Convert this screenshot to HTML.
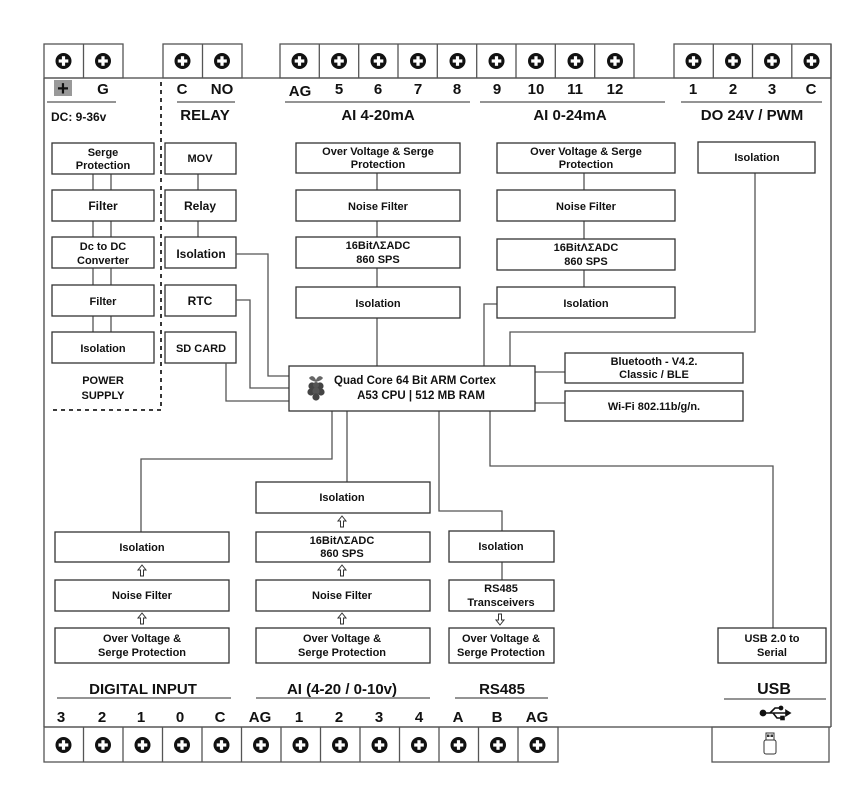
<!DOCTYPE html>
<html><head><meta charset="utf-8"><style>
html,body{margin:0;padding:0;background:#fff;}
svg{display:block;}
text{font-family:"Liberation Sans",Arial,sans-serif;font-weight:bold;fill:#111;}
.b{fill:#fff;stroke:#333;stroke-width:1.3;}
.l{fill:none;stroke:#555;stroke-width:1.3;}
.t{font-size:11px;text-anchor:middle;}
.p{font-size:15px;text-anchor:middle;}
.h{font-size:15px;text-anchor:middle;}
</style></head><body>
<svg width="868" height="802" viewBox="0 0 868 802" xmlns="http://www.w3.org/2000/svg">
<defs>
<g id="s"><circle r="8" fill="#111"/><rect x="-4.8" y="-1.6" width="9.6" height="3.2" fill="#fff"/><rect x="-1.6" y="-4.8" width="3.2" height="9.6" fill="#fff"/></g>
<g id="ua"><path d="M0,-6 L-4,-1 L-1.5,-1 L-1.5,5 L1.5,5 L1.5,-1 L4,-1 Z" fill="#fff" stroke="#333" stroke-width="1"/></g>
</defs>

<path class="l" d="M44,78 L831,78 M44,78 L44,727 M831,44 L831,727 M44,727 L831,727" style="stroke:#444"/>

<g class="l" style="stroke:#555">
<rect x="44" y="44" width="79" height="34"/><line x1="83.5" y1="44" x2="83.5" y2="78"/>
<rect x="163" y="44" width="79" height="34"/><line x1="202.5" y1="44" x2="202.5" y2="78"/>
<rect x="280" y="44" width="354" height="34"/>
<rect x="674" y="44" width="157" height="34"/>
</g>
<g class="l" style="stroke:#555">
<line x1="319.3" y1="44" x2="319.3" y2="78"/><line x1="358.7" y1="44" x2="358.7" y2="78"/><line x1="398" y1="44" x2="398" y2="78"/><line x1="437.3" y1="44" x2="437.3" y2="78"/><line x1="476.7" y1="44" x2="476.7" y2="78"/><line x1="516" y1="44" x2="516" y2="78"/><line x1="555.3" y1="44" x2="555.3" y2="78"/><line x1="594.7" y1="44" x2="594.7" y2="78"/>
<line x1="713.3" y1="44" x2="713.3" y2="78"/><line x1="752.5" y1="44" x2="752.5" y2="78"/><line x1="791.8" y1="44" x2="791.8" y2="78"/>
</g>
<use href="#s" x="63.5" y="61"/><use href="#s" x="103" y="61"/>
<use href="#s" x="182.5" y="61"/><use href="#s" x="222" y="61"/>
<use href="#s" x="299.5" y="61"/><use href="#s" x="339" y="61"/><use href="#s" x="378.5" y="61"/><use href="#s" x="418" y="61"/><use href="#s" x="457.5" y="61"/><use href="#s" x="496.5" y="61"/><use href="#s" x="536" y="61"/><use href="#s" x="575.5" y="61"/><use href="#s" x="615" y="61"/>
<use href="#s" x="693.5" y="61"/><use href="#s" x="733" y="61"/><use href="#s" x="772" y="61"/><use href="#s" x="811.5" y="61"/>

<rect x="54" y="80" width="18" height="16" fill="#999"/>
<text class="p" x="63" y="95" style="font-size:20px">+</text>
<text class="p" x="103" y="94">G</text>
<text class="p" x="182" y="94">C</text><text class="p" x="222" y="94">NO</text>
<text class="p" x="300" y="96">AG</text><text class="p" x="339" y="94">5</text><text class="p" x="378" y="94">6</text><text class="p" x="418" y="94">7</text><text class="p" x="457" y="94">8</text>
<text class="p" x="497" y="94">9</text><text class="p" x="536" y="94">10</text><text class="p" x="575" y="94">11</text><text class="p" x="615" y="94">12</text>
<text class="p" x="693" y="94">1</text><text class="p" x="733" y="94">2</text><text class="p" x="772" y="94">3</text><text class="p" x="811" y="94">C</text>
<g class="l"><line x1="47" y1="102" x2="116" y2="102"/><line x1="177" y1="102" x2="235" y2="102"/><line x1="285" y1="102" x2="470" y2="102"/><line x1="480" y1="102" x2="665" y2="102"/><line x1="681" y1="102" x2="822" y2="102"/></g>
<text x="51" y="121" style="font-size:12px">DC: 9-36v</text>
<text class="h" x="205" y="120">RELAY</text>
<text class="h" x="378" y="120">AI 4-20mA</text>
<text class="h" x="570" y="120">AI 0-24mA</text>
<text class="h" x="752" y="120">DO 24V / PWM</text>

<path d="M161,82 L161,410 L50,410" fill="none" stroke="#222" stroke-width="1.8" stroke-dasharray="4,4"/>

<g class="l"><line x1="93" y1="174" x2="93" y2="332"/><line x1="111" y1="174" x2="111" y2="332"/></g>
<rect class="b" x="52" y="143" width="102" height="31"/><text class="t" x="103" y="156">Serge</text><text class="t" x="103" y="169">Protection</text>
<rect class="b" x="52" y="190" width="102" height="31"/><text class="t" x="103" y="210" style="font-size:12px">Filter</text>
<rect class="b" x="52" y="237" width="102" height="31"/><text class="t" x="103" y="250">Dc to DC</text><text class="t" x="103" y="264">Converter</text>
<rect class="b" x="52" y="285" width="102" height="31"/><text class="t" x="103" y="305">Filter</text>
<rect class="b" x="52" y="332" width="102" height="31"/><text class="t" x="103" y="352">Isolation</text>
<text class="t" x="103" y="384">POWER</text><text class="t" x="103" y="399">SUPPLY</text>

<g class="l"><line x1="198" y1="174" x2="198" y2="237"/></g>
<rect class="b" x="165" y="143" width="71" height="31"/><text class="t" x="200" y="162">MOV</text>
<rect class="b" x="165" y="190" width="71" height="31"/><text class="t" x="200" y="210" style="font-size:12px">Relay</text>
<rect class="b" x="165" y="237" width="71" height="31"/><text class="t" x="201" y="258" style="font-size:12px">Isolation</text>
<rect class="b" x="165" y="285" width="71" height="31"/><text class="t" x="200" y="305" style="font-size:12px">RTC</text>
<rect class="b" x="165" y="332" width="71" height="31"/><text class="t" x="201" y="352">SD CARD</text>

<g class="l">
<polyline points="236,254 268,254 268,376 289,376"/>
<polyline points="236,300 250,300 250,388 289,388"/>
<polyline points="226,363 226,401 289,401"/>
</g>

<g class="l"><line x1="377" y1="173" x2="377" y2="366"/></g>
<rect class="b" x="296" y="143" width="164" height="30"/><text class="t" x="378" y="155">Over Voltage &amp; Serge</text><text class="t" x="378" y="168">Protection</text>
<rect class="b" x="296" y="190" width="164" height="31"/><text class="t" x="378" y="210">Noise Filter</text>
<rect class="b" x="296" y="237" width="164" height="31"/><text class="t" x="378" y="249">16BitΛΣADC</text><text class="t" x="378" y="263">860 SPS</text>
<rect class="b" x="296" y="287" width="164" height="31"/><text class="t" x="378" y="307">Isolation</text>

<g class="l"><line x1="584" y1="173" x2="584" y2="287"/>
<polyline points="497,304 484,304 484,366"/>
<polyline points="755,173 755,332 510,332 510,366"/></g>
<rect class="b" x="497" y="143" width="178" height="30"/><text class="t" x="586" y="155">Over Voltage &amp; Serge</text><text class="t" x="586" y="168">Protection</text>
<rect class="b" x="497" y="190" width="178" height="31"/><text class="t" x="586" y="210">Noise Filter</text>
<rect class="b" x="497" y="239" width="178" height="31"/><text class="t" x="586" y="251">16BitΛΣADC</text><text class="t" x="586" y="265">860 SPS</text>
<rect class="b" x="497" y="287" width="178" height="31"/><text class="t" x="586" y="307">Isolation</text>
<rect class="b" x="698" y="142" width="117" height="31"/><text class="t" x="757" y="161">Isolation</text>

<g class="l">
<line x1="535" y1="372" x2="565" y2="372"/><line x1="535" y1="403" x2="565" y2="403"/>
<polyline points="332,411 332,459 141,459 141,532"/>
<line x1="347" y1="411" x2="347" y2="482"/>
<polyline points="439,411 439,511 502,511 502,531"/>
<polyline points="490,411 490,466 773,466 773,628"/>
</g>
<rect class="b" x="289" y="366" width="246" height="45"/>
<g transform="translate(316,388)">
<path d="M-7,-10 C-4,-14 -1,-11 0,-8 C1,-11 4,-14 7,-10 C5,-7 2,-7 0,-6 C-2,-7 -5,-7 -7,-10Z" fill="#666"/>
<circle cx="-4" cy="-2" r="3.6" fill="#444"/><circle cx="4" cy="-2" r="3.6" fill="#444"/><circle cx="0" cy="-3" r="3" fill="#555"/>
<circle cx="-5" cy="4" r="3.6" fill="#444"/><circle cx="5" cy="4" r="3.6" fill="#444"/><circle cx="0" cy="3" r="3.6" fill="#555"/><circle cx="0" cy="9" r="3.6" fill="#444"/>
</g>
<text class="t" x="415" y="384" style="font-size:11.5px">Quad Core 64 Bit ARM Cortex</text>
<text class="t" x="421" y="399" style="font-size:11.5px">A53 CPU | 512 MB RAM</text>

<rect class="b" x="565" y="353" width="178" height="30"/><text class="t" x="654" y="365">Bluetooth - V4.2.</text><text class="t" x="654" y="378">Classic / BLE</text>
<rect class="b" x="565" y="391" width="178" height="30"/><text class="t" x="654" y="410">Wi-Fi 802.11b/g/n.</text>

<rect class="b" x="55" y="532" width="174" height="30"/><text class="t" x="142" y="551">Isolation</text>
<rect class="b" x="55" y="580" width="174" height="31"/><text class="t" x="142" y="599">Noise Filter</text>
<rect class="b" x="55" y="628" width="174" height="35"/><text class="t" x="142" y="642">Over Voltage &amp;</text><text class="t" x="142" y="656">Serge Protection</text>
<use href="#ua" x="142" y="571"/><use href="#ua" x="142" y="619"/>

<rect class="b" x="256" y="482" width="174" height="31"/><text class="t" x="342" y="501">Isolation</text>
<rect class="b" x="256" y="532" width="174" height="30"/><text class="t" x="342" y="544">16BitΛΣADC</text><text class="t" x="342" y="557">860 SPS</text>
<rect class="b" x="256" y="580" width="174" height="31"/><text class="t" x="342" y="599">Noise Filter</text>
<rect class="b" x="256" y="628" width="174" height="35"/><text class="t" x="342" y="642">Over Voltage &amp;</text><text class="t" x="342" y="656">Serge Protection</text>
<use href="#ua" x="342" y="522"/><use href="#ua" x="342" y="571"/><use href="#ua" x="342" y="619"/>

<g class="l"><line x1="502" y1="562" x2="502" y2="580"/></g>
<rect class="b" x="449" y="531" width="105" height="31"/><text class="t" x="501" y="550">Isolation</text>
<rect class="b" x="449" y="580" width="105" height="31"/><text class="t" x="501" y="592">RS485</text><text class="t" x="501" y="606">Transceivers</text>
<rect class="b" x="449" y="628" width="105" height="35"/><text class="t" x="501" y="642">Over Voltage &amp;</text><text class="t" x="501" y="656">Serge Protection</text>
<use href="#ua" x="500" y="619" transform="rotate(180 500 619)"/>

<rect class="b" x="718" y="628" width="108" height="35"/><text class="t" x="772" y="642">USB 2.0 to</text><text class="t" x="772" y="656">Serial</text>

<text class="h" x="143" y="694">DIGITAL INPUT</text>
<text class="h" x="342" y="694">AI (4-20 / 0-10v)</text>
<text class="h" x="502" y="694">RS485</text>
<text class="h" x="774" y="694" style="font-size:16px">USB</text>
<g class="l"><line x1="57" y1="698" x2="231" y2="698"/><line x1="256" y1="698" x2="430" y2="698"/><line x1="455" y1="698" x2="548" y2="698"/><line x1="724" y1="699" x2="826" y2="699"/></g>
<text class="p" x="61" y="722">3</text><text class="p" x="102" y="722">2</text><text class="p" x="141" y="722">1</text><text class="p" x="180" y="722">0</text><text class="p" x="220" y="722">C</text>
<text class="p" x="260" y="722">AG</text><text class="p" x="299" y="722">1</text><text class="p" x="339" y="722">2</text><text class="p" x="379" y="722">3</text><text class="p" x="419" y="722">4</text>
<text class="p" x="458" y="722">A</text><text class="p" x="497" y="722">B</text><text class="p" x="537" y="722">AG</text>
<g transform="translate(774,713)" stroke="#111" stroke-width="1.6" fill="none">
<line x1="-10" y1="0" x2="12" y2="0"/>
<polyline points="-4,0 1,-5 6,-5"/><polyline points="-1,0 3,5 7,5"/>
<circle cx="-11" cy="0" r="2.6" fill="#111"/><path d="M12,-2.5 L16,0 L12,2.5Z" fill="#111"/>
<circle cx="7" cy="-5" r="1.6" fill="#111"/><rect x="7" y="3.5" width="3" height="3" fill="#111"/>
</g>

<rect class="l" x="44" y="727" width="514" height="35"/>
<g class="l">
<line x1="83.5" y1="727" x2="83.5" y2="762"/><line x1="123" y1="727" x2="123" y2="762"/><line x1="162.5" y1="727" x2="162.5" y2="762"/><line x1="202" y1="727" x2="202" y2="762"/><line x1="241.5" y1="727" x2="241.5" y2="762"/><line x1="281" y1="727" x2="281" y2="762"/><line x1="320.5" y1="727" x2="320.5" y2="762"/><line x1="360" y1="727" x2="360" y2="762"/><line x1="399.5" y1="727" x2="399.5" y2="762"/><line x1="439" y1="727" x2="439" y2="762"/><line x1="478.5" y1="727" x2="478.5" y2="762"/><line x1="518" y1="727" x2="518" y2="762"/>
</g>
<use href="#s" x="63.5" y="745"/><use href="#s" x="103" y="745"/><use href="#s" x="142.5" y="745"/><use href="#s" x="182" y="745"/><use href="#s" x="221.5" y="745"/><use href="#s" x="261" y="745"/><use href="#s" x="300.5" y="745"/><use href="#s" x="340" y="745"/><use href="#s" x="379.5" y="745"/><use href="#s" x="419" y="745"/><use href="#s" x="458.5" y="745"/><use href="#s" x="498" y="745"/><use href="#s" x="537.5" y="745"/>
<rect class="l" x="712" y="727" width="117" height="35"/>
<g transform="translate(770,744)" stroke="#333" stroke-width="1" fill="#fff">
<rect x="-4" y="-11" width="8" height="7"/><rect x="-6" y="-4" width="12" height="14" rx="2"/>
<rect x="-2.5" y="-9" width="1.5" height="1.5" fill="#333"/><rect x="1" y="-9" width="1.5" height="1.5" fill="#333"/>
</g>
</svg>
</body></html>
